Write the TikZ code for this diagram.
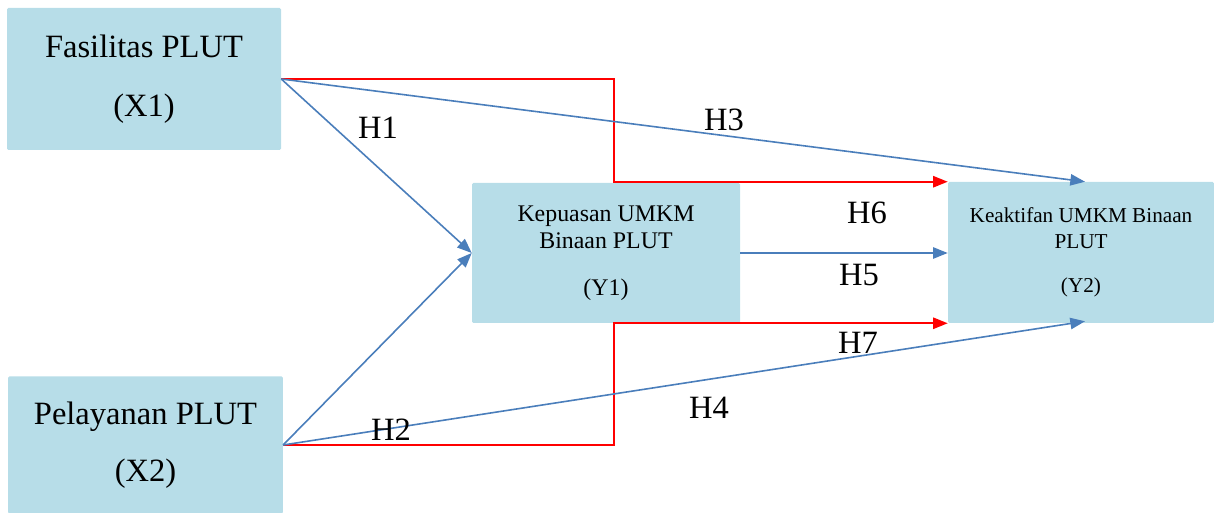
\documentclass[tikz,border=0pt]{standalone}
\usepackage{fontspec}
\setmainfont{Liberation Serif}
\usepackage{tikz}
\usetikzlibrary{arrows.meta,positioning,calc}
\definecolor{boxblue}{RGB}{183,221,232}
\definecolor{lineblue}{RGB}{74,126,187}
\definecolor{linered}{RGB}{255,0,0}

\begin{document}
\begin{tikzpicture}[x=0.75pt, y=-0.75pt,
  every node/.style={font=\fontsize{24.4}{44}\selectfont},
  var/.style={rectangle, fill=boxblue, rounded corners=1pt, align=center, inner sep=0pt},
  direct/.style={draw=lineblue, line width=1.2pt, -{Triangle[length=11pt, width=8.5pt]}},
  mediated/.style={draw=linered, line width=1.4pt, -{Triangle[length=11pt, width=8.5pt]}},
  hyp/.style={inner sep=0pt}
]
  \useasboundingbox (0,0) rectangle (1214,513);
  \node[var, minimum width=205.5pt, minimum height=106.5pt] (x1) at (144,79)
    {Fasilitas PLUT\\(X1)};
  \node[var, minimum width=206pt, minimum height=103pt,
        font=\fontsize{24.4}{42.75}\selectfont] (x2) at (145.5,445)
    {Pelayanan PLUT\\(X2)};
  \node[var, minimum width=201pt, minimum height=105pt,
        font=\fontsize{17.9}{20.25}\selectfont] (y1) at (606,253)
    {Kepuasan UMKM\\Binaan PLUT\\[15pt](Y1)};
  \node[var, minimum width=199.5pt, minimum height=105.75pt,
        font=\fontsize{15.9}{19.5}\selectfont] (y2) at (1081,252.5)
    {Keaktifan UMKM Binaan\\PLUT\\[13.5pt](Y2)};
  \coordinate (bend) at (614,0);
  % indirect paths
  \draw[mediated] (x1.east) -| (bend |- y2.north west) -- (y2.north west);
  \draw[mediated] (x2.east) -| (bend |- y2.south west) -- (y2.south west);
  % direct paths
  \draw[direct] (x1.east) -- (y1.west);
  \draw[direct] (x1.east) -- ($(y2.north)+(4,0)$);
  \draw[direct] (x2.east) -- (y1.west);
  \draw[direct] (x2.east) -- ($(y2.south)+(4,-2)$);
  \draw[direct] (y1.east) -- (y2.west |- y1.east);
  \node[hyp] (h1) at (378,128) {H1};
  \node[hyp] (h2) at (391,430) {H2};
  \node[hyp] (h3) at (724,120) {H3};
  \node[hyp] (h4) at (709,408) {H4};
  \node[hyp] (h5) at (859,275) {H5};
  \node[hyp] (h6) at (867,213) {H6};
  \node[hyp] (h7) at (858,343) {H7};
\end{tikzpicture}
\end{document}
